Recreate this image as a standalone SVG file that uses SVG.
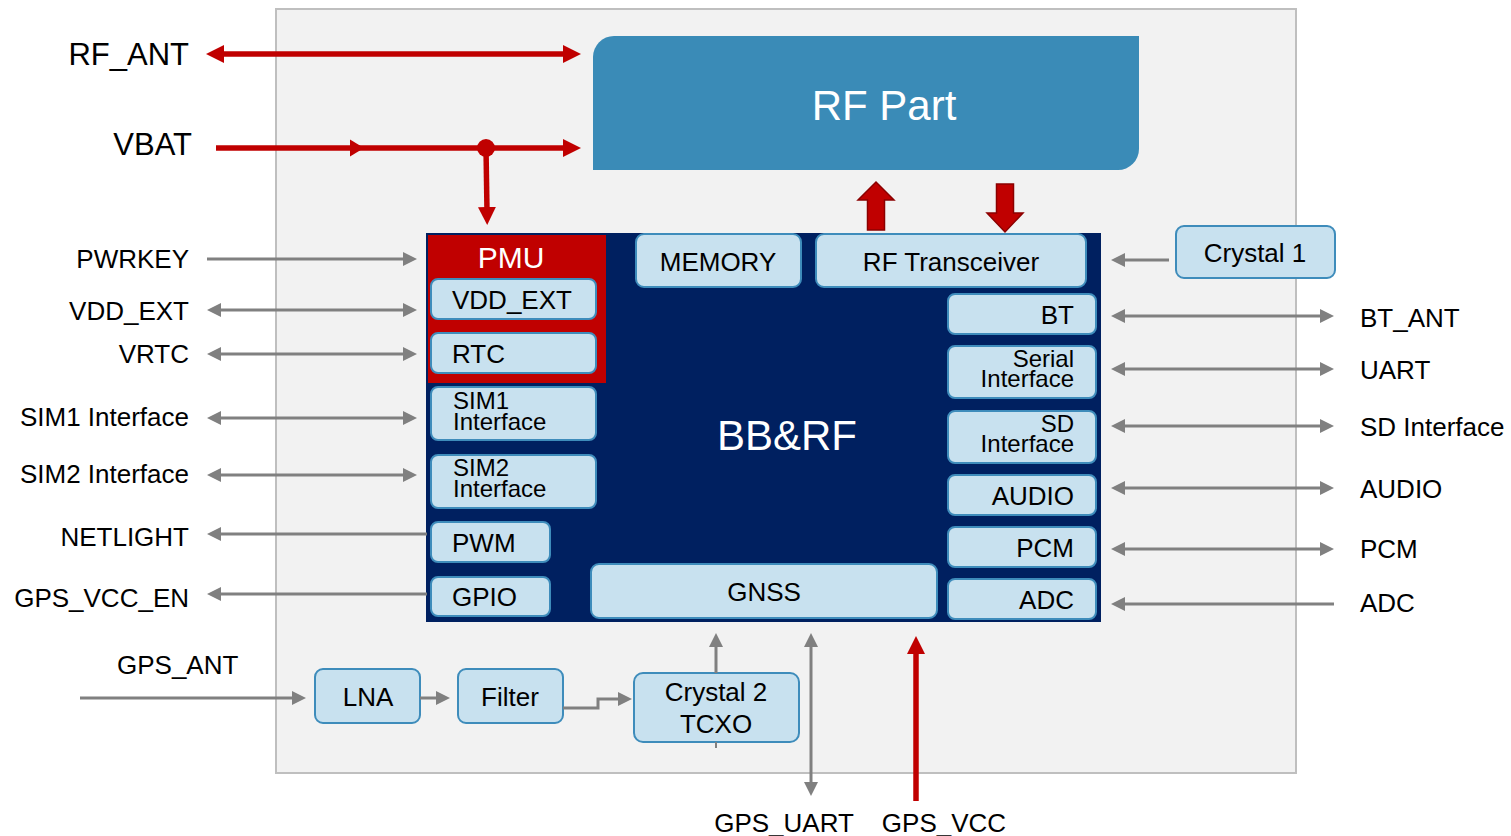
<svg xmlns="http://www.w3.org/2000/svg" width="1511" height="836" viewBox="0 0 1511 836">
<defs>
<style>
text{font-family:"Liberation Sans",Arial,sans-serif;fill:#000}
.lbl{font-size:26px}
.lblL{font-size:26px;text-anchor:end}
.big{font-size:31px;text-anchor:end}
.ib{fill:#c8e1ef;stroke:#3e8cbb;stroke-width:2}
.bt{font-size:26px}
.bt2{font-size:24px}
.mid{text-anchor:middle}
.end{text-anchor:end}
.g{stroke:#808080;stroke-width:3;fill:none}
.r{stroke:#c00000;stroke-width:5.5;fill:none}
</style>
<marker id="ga" markerUnits="userSpaceOnUse" markerWidth="14" markerHeight="14" refX="4" refY="7" orient="auto-start-reverse">
<path d="M0,0 L14,7 L0,14 Z" fill="#808080"/>
</marker>
<marker id="ra" markerUnits="userSpaceOnUse" markerWidth="18" markerHeight="18" refX="5" refY="9" orient="auto-start-reverse">
<path d="M0,0 L18,9 L0,18 Z" fill="#c00000"/>
</marker>
</defs>

<rect id="module" x="276" y="9" width="1020" height="764" fill="#f2f2f2" stroke="#bfbfbf" stroke-width="2"/>

<g id="rfpart">
<path d="M614,36 L1139,36 L1139,149 A21,21 0 0 1 1118,170 L593,170 L593,57 A21,21 0 0 1 614,36 Z" fill="#3a8bb7"/>
<text x="884" y="120" font-size="42" class="mid" style="fill:#fff">RF Part</text>
</g>

<g id="bbrf">
<rect x="426" y="233" width="675" height="389" fill="#002060"/>
<text x="787" y="450" font-size="42" class="mid" style="fill:#fff">BB&amp;RF</text>
</g>

<g id="pmu">
<rect x="428" y="235" width="178" height="148" fill="#c00000"/>
<text x="511" y="268" font-size="30" class="mid" style="fill:#fff">PMU</text>
</g>

<g id="vdd_ext_box"><rect class="ib" x="431" y="279" width="165" height="40" rx="7"/><text class="bt" x="452" y="309">VDD_EXT</text></g>
<g id="rtc_box"><rect class="ib" x="431" y="333" width="165" height="40" rx="7"/><text class="bt" x="452" y="363">RTC</text></g>
<g id="sim1_box"><rect class="ib" x="431" y="387" width="165" height="53" rx="7"/><text class="bt2" x="453" y="409">SIM1</text><text class="bt2" x="453" y="430">Interface</text></g>
<g id="sim2_box"><rect class="ib" x="431" y="455" width="165" height="53" rx="7"/><text class="bt2" x="453" y="476">SIM2</text><text class="bt2" x="453" y="497">Interface</text></g>
<g id="pwm_box"><rect class="ib" x="431" y="522" width="119" height="40" rx="7"/><text class="bt" x="452" y="552">PWM</text></g>
<g id="gpio_box"><rect class="ib" x="431" y="577" width="119" height="39" rx="7"/><text class="bt" x="452" y="606">GPIO</text></g>
<g id="gnss_box"><rect class="ib" x="591" y="564" width="346" height="54" rx="8"/><text class="bt mid" x="764" y="601">GNSS</text></g>
<g id="memory_box"><rect class="ib" x="636" y="234" width="165" height="53" rx="8"/><text class="bt mid" x="718" y="271">MEMORY</text></g>
<g id="rftrx_box"><rect class="ib" x="816" y="234" width="270" height="53" rx="8"/><text class="bt mid" x="951" y="271">RF Transceiver</text></g>
<g id="bt_box"><rect class="ib" x="948" y="294" width="148" height="40" rx="7"/><text class="bt end" x="1074" y="324">BT</text></g>
<g id="serial_box"><rect class="ib" x="948" y="346" width="148" height="52" rx="7"/><text class="bt2 end" x="1074" y="367">Serial</text><text class="bt2 end" x="1074" y="387">Interface</text></g>
<g id="sd_box"><rect class="ib" x="948" y="411" width="148" height="52" rx="7"/><text class="bt2 end" x="1074" y="432">SD</text><text class="bt2 end" x="1074" y="452">Interface</text></g>
<g id="audio_box"><rect class="ib" x="948" y="475" width="148" height="40" rx="7"/><text class="bt end" x="1074" y="505">AUDIO</text></g>
<g id="pcm_box"><rect class="ib" x="948" y="527" width="148" height="40" rx="7"/><text class="bt end" x="1074" y="557">PCM</text></g>
<g id="adc_box"><rect class="ib" x="948" y="579" width="148" height="40" rx="7"/><text class="bt end" x="1074" y="609">ADC</text></g>
<g id="crystal1"><rect class="ib" x="1176" y="226" width="159" height="52" rx="8"/><text class="bt mid" x="1255" y="262">Crystal 1</text></g>
<g id="lna"><rect class="ib" x="315" y="669" width="105" height="54" rx="8"/><text class="bt mid" x="368" y="706">LNA</text></g>
<g id="filter"><rect class="ib" x="458" y="669" width="105" height="54" rx="8"/><text class="bt mid" x="510" y="706">Filter</text></g>
<g id="crystal2"><rect class="ib" x="634" y="673" width="165" height="69" rx="9"/><text class="bt mid" x="716" y="701">Crystal 2</text><text class="bt mid" x="716" y="733">TCXO</text></g>

<g id="labels">
<text class="big" x="189" y="65">RF_ANT</text>
<text class="big" x="192" y="155">VBAT</text>
<text class="lblL" x="189" y="268">PWRKEY</text>
<text class="lblL" x="189" y="320">VDD_EXT</text>
<text class="lblL" x="189" y="363">VRTC</text>
<text class="lblL" x="189" y="426">SIM1 Interface</text>
<text class="lblL" x="189" y="483">SIM2 Interface</text>
<text class="lblL" x="189" y="546">NETLIGHT</text>
<text class="lblL" x="189" y="607">GPS_VCC_EN</text>
<text class="lbl" x="1360" y="327">BT_ANT</text>
<text class="lbl" x="1360" y="379">UART</text>
<text class="lbl" x="1360" y="436">SD Interface</text>
<text class="lbl" x="1360" y="498">AUDIO</text>
<text class="lbl" x="1360" y="558">PCM</text>
<text class="lbl" x="1360" y="612">ADC</text>
<text class="lbl" x="117" y="674">GPS_ANT</text>
<text class="lbl mid" x="784" y="832">GPS_UART</text>
<text class="lbl mid" x="944" y="832">GPS_VCC</text>
</g>

<g id="connectors">
<line class="r" x1="219" y1="54" x2="568" y2="54" marker-start="url(#ra)" marker-end="url(#ra)"/>
<line class="r" x1="216" y1="148" x2="568" y2="148" marker-end="url(#ra)"/>
<polygon points="350,139.5 364,148 350,156.5" fill="#c00000"/>
<circle cx="486" cy="148" r="9" fill="#c00000"/>
<line class="r" x1="486" y1="148" x2="487" y2="212" marker-end="url(#ra)"/>
<polygon points="867.5,230 884.5,230 884.5,200 894,200 876,182 858,200 867.5,200" fill="#c00000" stroke="#8b0000" stroke-width="1.5"/>
<polygon points="996.5,184 1013.5,184 1013.5,213 1023,213 1005,232 987,213 996.5,213" fill="#c00000" stroke="#8b0000" stroke-width="1.5"/>
<line class="r" x1="916" y1="801" x2="916" y2="649" marker-end="url(#ra)"/>

<line class="g" x1="207" y1="259" x2="407" y2="259" marker-end="url(#ga)"/>
<line class="g" x1="217" y1="310" x2="407" y2="310" marker-start="url(#ga)" marker-end="url(#ga)"/>
<line class="g" x1="217" y1="354" x2="407" y2="354" marker-start="url(#ga)" marker-end="url(#ga)"/>
<line class="g" x1="217" y1="418" x2="407" y2="418" marker-start="url(#ga)" marker-end="url(#ga)"/>
<line class="g" x1="217" y1="475" x2="407" y2="475" marker-start="url(#ga)" marker-end="url(#ga)"/>
<line class="g" x1="427" y1="534" x2="217" y2="534" marker-end="url(#ga)"/>
<line class="g" x1="427" y1="594" x2="217" y2="594" marker-end="url(#ga)"/>

<line class="g" x1="1169" y1="260" x2="1121" y2="260" marker-end="url(#ga)"/>
<line class="g" x1="1121" y1="316" x2="1324" y2="316" marker-start="url(#ga)" marker-end="url(#ga)"/>
<line class="g" x1="1121" y1="369" x2="1324" y2="369" marker-start="url(#ga)" marker-end="url(#ga)"/>
<line class="g" x1="1121" y1="426" x2="1324" y2="426" marker-start="url(#ga)" marker-end="url(#ga)"/>
<line class="g" x1="1121" y1="488" x2="1324" y2="488" marker-start="url(#ga)" marker-end="url(#ga)"/>
<line class="g" x1="1121" y1="549" x2="1324" y2="549" marker-start="url(#ga)" marker-end="url(#ga)"/>
<line class="g" x1="1334" y1="604" x2="1121" y2="604" marker-end="url(#ga)"/>

<line class="g" x1="80" y1="698" x2="296" y2="698" marker-end="url(#ga)"/>
<line class="g" x1="420" y1="698" x2="440" y2="698" marker-end="url(#ga)"/>
<polyline class="g" points="563,708 598,708 598,699 622,699" marker-end="url(#ga)"/>
<line class="g" x1="716" y1="673" x2="716" y2="643" marker-end="url(#ga)"/>
<line stroke="#808080" stroke-width="2" x1="716" y1="742" x2="716" y2="748"/>
<line class="g" x1="811" y1="643" x2="811" y2="786" marker-start="url(#ga)" marker-end="url(#ga)"/>
</g>
</svg>
